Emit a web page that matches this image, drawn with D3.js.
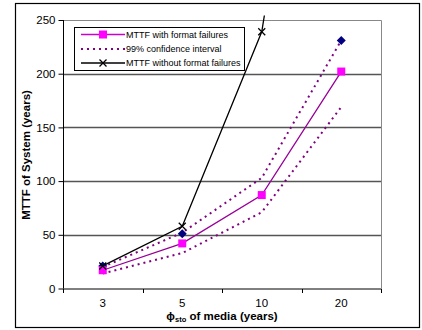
<!DOCTYPE html>
<html>
<head>
<meta charset="utf-8">
<script src="https://cdn.jsdelivr.net/npm/d3@7"></script>
<style>
  body { margin: 0; background: #fff; }
  text { font-family: "Liberation Sans", Arial, sans-serif; }
</style>
</head>
<body>
<div id="viz"></div>
<script>
// chart data
const categories = ['3', '5', '10', '20'];
const withFormat = [17, 42, 87, 202];
const ciUpper = [20, 52, 103, 231];
const ciLower = [14, 33, 71, 169];
const withoutFormat = [21, 58, 239, 700];
const diamonds = [21, 51, null, 231];
const yTicks = [0, 50, 100, 150, 200, 250];

const width = 422;
const height = 330;

const svg = d3.select('#viz')
  .html('')
  .append('svg')
  .attr('width', width)
  .attr('height', height);

// outer frame
svg.append('rect')
  .attr('x', 15.5).attr('y', 3.5)
  .attr('width', 404).attr('height', 324)
  .attr('fill', 'none')
  .attr('stroke', '#000')
  .attr('stroke-width', 1.2);

const pLeft = 63, pRight = 381, pTop = 20, pBottom = 288.5;

const x = d3.scaleBand()
  .domain(categories)
  .range([pLeft, pRight])
  .padding(0);
const cx = d => x(d) + x.bandwidth() / 2;

const y = d3.scaleLinear()
  .domain([0, 250])
  .range([pBottom, pTop]);

// plot area border (top / right)
svg.append('path')
  .attr('d', `M${pLeft},${pTop + 0.5}H${pRight + 0.5}V${pBottom}`)
  .attr('fill', 'none')
  .attr('stroke', '#888')
  .attr('stroke-width', 1);

// gridlines
svg.append('g')
  .selectAll('line')
  .data(yTicks.filter(v => v > 0 && v < 250))
  .enter()
  .append('line')
  .attr('x1', pLeft).attr('x2', pRight)
  .attr('y1', d => Math.round(y(d)) + 0.5)
  .attr('y2', d => Math.round(y(d)) + 0.5)
  .attr('stroke', '#555')
  .attr('stroke-width', 1.3);

// y axis
const yAxis = svg.append('g')
  .attr('transform', `translate(${pLeft + 0.5},0)`)
  .call(d3.axisLeft(y).tickValues(yTicks).tickSize(5).tickPadding(3));
yAxis.selectAll('text')
  .attr('font-size', 11.5)
  .attr('font-family', '"Liberation Sans", Arial, sans-serif')
  .attr('fill', '#000');
yAxis.selectAll('line, path').attr('stroke', '#000');
yAxis.select('.domain').attr('d', `M0,${pTop}V${pBottom}`);

// x axis: labels at centres, ticks at band edges
const xAxis = svg.append('g')
  .attr('transform', `translate(0,${pBottom + 0.5})`)
  .call(d3.axisBottom(x).tickSize(0).tickPadding(10));
xAxis.select('.domain').attr('d', `M${pLeft},0H${pRight + 0.5}`).attr('stroke', '#000');
xAxis.selectAll('text')
  .attr('font-size', 11.5)
  .attr('font-family', '"Liberation Sans", Arial, sans-serif')
  .attr('fill', '#000');
xAxis.selectAll('.edge')
  .data(categories.map(d => x(d)).concat([pRight]))
  .enter()
  .append('line')
  .attr('class', 'edge')
  .attr('x1', d => Math.round(d) + 0.5)
  .attr('x2', d => Math.round(d) + 0.5)
  .attr('y1', 0).attr('y2', 4)
  .attr('stroke', '#000');

// clipping
svg.append('clipPath').attr('id', 'clip')
  .append('rect')
  .attr('x', pLeft).attr('y', 15.5)
  .attr('width', pRight - pLeft + 5).attr('height', pBottom - 15.5);

const plot = svg.append('g').attr('clip-path', 'url(#clip)');

const line = d3.line()
  .defined(d => d.v != null)
  .x(d => cx(d.c))
  .y(d => y(d.v));
const pts = arr => categories.map((c, i) => ({ c: c, v: arr[i] }));

// confidence interval
[ciUpper, ciLower].forEach(arr => {
  plot.append('path')
    .datum(pts(arr))
    .attr('d', line)
    .attr('fill', 'none')
    .attr('stroke', '#800080')
    .attr('stroke-width', 2)
    .attr('stroke-dasharray', '2,4');
});

// with format failures
plot.append('path')
  .datum(pts(withFormat))
  .attr('d', line)
  .attr('fill', 'none')
  .attr('stroke', '#990099')
  .attr('stroke-width', 1.3);

// without format failures
plot.append('path')
  .datum(pts(withoutFormat))
  .attr('d', line)
  .attr('fill', 'none')
  .attr('stroke', '#000')
  .attr('stroke-width', 1.3);

// diamonds
plot.selectAll('.dia')
  .data(pts(diamonds).filter(d => d.v != null))
  .enter()
  .append('path')
  .attr('class', 'dia')
  .attr('transform', d => `translate(${cx(d.c)},${y(d.v)})`)
  .attr('d', 'M0,-4.5L4.5,0L0,4.5L-4.5,0Z')
  .attr('fill', '#000080');

// squares
plot.selectAll('.sq')
  .data(pts(withFormat))
  .enter()
  .append('rect')
  .attr('class', 'sq')
  .attr('x', d => cx(d.c) - 4)
  .attr('y', d => y(d.v) - 4)
  .attr('width', 8).attr('height', 8)
  .attr('fill', '#ff00ff');

// X markers
const cross = 'M-3.5,-3.5L3.5,3.5M-3.5,3.5L3.5,-3.5';
plot.selectAll('.xm')
  .data(pts(withoutFormat).filter(d => d.v <= 250))
  .enter()
  .append('path')
  .attr('class', 'xm')
  .attr('transform', d => `translate(${cx(d.c)},${y(d.v)})`)
  .attr('d', cross)
  .attr('stroke', '#000')
  .attr('stroke-width', 1.3);

// legend
const lg = svg.append('g');
lg.append('rect')
  .attr('x', 74.5).attr('y', 27.5)
  .attr('width', 170).attr('height', 43)
  .attr('fill', '#fff')
  .attr('stroke', '#000')
  .attr('stroke-width', 1);

const legendItems = [
  { label: 'MTTF with format failures', type: 'sq', y: 34.5 },
  { label: '99%  confidence interval', type: 'dot', y: 49 },
  { label: 'MTTF without format failures', type: 'x', y: 63 }
];
legendItems.forEach(it => {
  const ln = lg.append('line')
    .attr('x1', 81).attr('x2', 125)
    .attr('y1', it.y).attr('y2', it.y);
  if (it.type === 'sq') {
    ln.attr('stroke', '#cc00cc').attr('stroke-width', 1.3);
    lg.append('rect').attr('x', 99).attr('y', it.y - 4)
      .attr('width', 8).attr('height', 8).attr('fill', '#ff00ff');
  } else if (it.type === 'dot') {
    ln.attr('stroke', '#800080').attr('stroke-width', 2).attr('stroke-dasharray', '2,4');
  } else {
    ln.attr('stroke', '#000').attr('stroke-width', 1.3);
    lg.append('path').attr('transform', `translate(103,${it.y})`)
      .attr('d', cross).attr('stroke', '#000').attr('stroke-width', 1.3);
  }
  lg.append('text')
    .attr('x', 126).attr('y', it.y + 3.3)
    .attr('font-size', 9)
    .attr('fill', '#000')
    .text(it.label);
});

// axis titles
svg.append('text')
  .attr('transform', 'translate(30,155) rotate(-90)')
  .attr('text-anchor', 'middle')
  .attr('font-size', 11.5)
  .attr('font-weight', 'bold')
  .text('MTTF of System (years)');

const xt = svg.append('text')
  .attr('x', 222).attr('y', 320)
  .attr('text-anchor', 'middle')
  .attr('font-size', 11.5)
  .attr('font-weight', 'bold');
xt.append('tspan').text('ϕ');
xt.append('tspan').attr('font-size', 7.5).attr('dy', 2).text('sto');
xt.append('tspan').attr('dy', -2).text(' of media (years)');
</script>
</body>
</html>
